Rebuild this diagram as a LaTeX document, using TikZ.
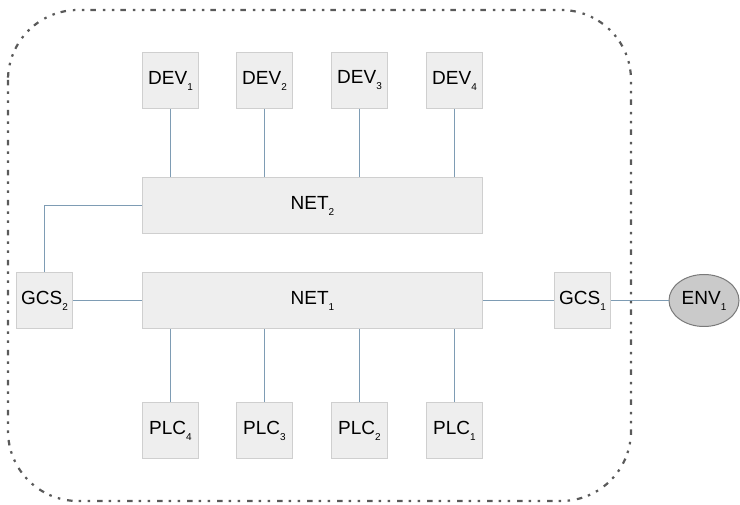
\documentclass[tikz,border=0pt]{standalone}
\usepackage{fontspec}
\setmainfont{Liberation Sans}
\usepackage{tikz}
\usetikzlibrary{arrows,%
                shapes}
\definecolor{boxfill}{HTML}{EEEEEE}
\definecolor{boxline}{HTML}{CFCFCF}
\definecolor{wire}{HTML}{7E9CB4}
\definecolor{frameline}{HTML}{5A5A5A}
\definecolor{envfill}{HTML}{CACACA}
\definecolor{envline}{HTML}{7A7A7A}
\newcommand{\sbs}[1]{\raisebox{-6pt}{\fontsize{10}{12}\selectfont#1}}

\begin{document}
\begin{tikzpicture}[x=1pt,y=-1pt,
  every node/.style={font=\fontsize{19}{23}\selectfont},
  unit/.style={draw=boxline,fill=boxfill,line width=1pt,minimum width=56pt,minimum height=56pt,inner sep=0pt},
  net/.style={unit,minimum width=340pt},
  env/.style={ellipse,draw=envline,fill=envfill,line width=1pt,minimum width=70pt,minimum height=52pt,inner sep=0pt},
  link/.style={draw=wire,line width=1.1pt}]
\useasboundingbox (0,0) rectangle (740,505);
\draw[frameline,line width=2.2pt,dash pattern=on 5.5pt off 6pt on 2.5pt off 6.5pt on 2.5pt off 7pt,rounded corners=70pt] (8,10) rectangle (631,501);

\node[unit] (DEV1) at (170.5,80.5) {DEV\sbs{1}};
\node[unit] (DEV2) at (264.5,80.5) {DEV\sbs{2}};
\node[unit] (DEV3) at (359.5,80.5) {DEV\sbs{3}};
\node[unit] (DEV4) at (454.5,80.5) {DEV\sbs{4}};
\node[net] (NET2) at (312.5,205.5) {NET\sbs{2}};
\node[net] (NET1) at (312.5,300.5) {NET\sbs{1}};
\node[unit] (GCS2) at (44.5,300.5) {GCS\sbs{2}};
\node[unit] (GCS1) at (582.5,300.5) {GCS\sbs{1}};
\node[env] (ENV1) at (704,300.5) {ENV\sbs{1}};
\node[unit] (PLC4) at (170.5,430.5) {PLC\sbs{4}};
\node[unit] (PLC3) at (264.5,430.5) {PLC\sbs{3}};
\node[unit] (PLC2) at (359.5,430.5) {PLC\sbs{2}};
\node[unit] (PLC1) at (454.5,430.5) {PLC\sbs{1}};

\draw[link] (DEV1) -- (DEV1 |- NET2.north);
\draw[link] (DEV2) -- (DEV2 |- NET2.north);
\draw[link] (DEV3) -- (DEV3 |- NET2.north);
\draw[link] (DEV4) -- (DEV4 |- NET2.north);

\draw[link] (PLC4) -- (PLC4 |- NET1.south);
\draw[link] (PLC3) -- (PLC3 |- NET1.south);
\draw[link] (PLC2) -- (PLC2 |- NET1.south);
\draw[link] (PLC1) -- (PLC1 |- NET1.south);

\draw[link] (GCS2) |- (NET2);
\draw[link] (GCS2) -- (NET1);
\draw[link] (NET1) -- (GCS1);
\draw[link] (GCS1) -- (ENV1);
\end{tikzpicture}
\end{document}
